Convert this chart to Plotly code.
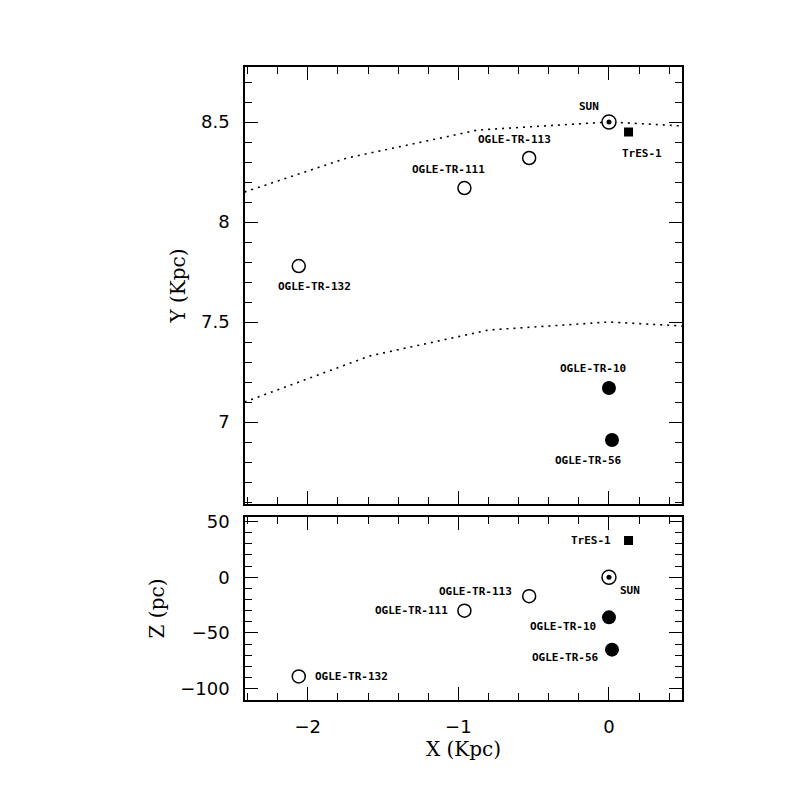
import plotly.graph_objects as go

# stars: galactic X (Kpc), Y (Kpc), Z (pc)
names = ["SUN", "TrES-1", "OGLE-TR-10", "OGLE-TR-56", "OGLE-TR-111", "OGLE-TR-113", "OGLE-TR-132"]
x_kpc = [0.0, 0.13, 0.0, 0.02, -0.96, -0.53, -2.06]
y_kpc = [8.50, 8.45, 7.17, 6.91, 8.17, 8.32, 7.78]
z_pc = [0, 33, -36, -65, -30, -17, -89]

# dotted curves (R = 8.5 and 7.5 Kpc)
r85_x = [-2.42, -1.74, -0.87, 0.0, 0.49]
r85_y = [8.15, 8.32, 8.46, 8.50, 8.48]
r75_x = [-2.42, -1.59, -0.80, 0.0, 0.49]
r75_y = [7.10, 7.33, 7.46, 7.50, 7.48]

# marker style per star
open_c = dict(symbol="circle", size=13, color="white", line=dict(color="black", width=1.5))
styles = {
    "SUN": dict(symbol="circle", size=14, color="white", line=dict(color="black", width=1.5)),
    "TrES-1": dict(symbol="square", size=9, color="black"),
    "OGLE-TR-10": dict(symbol="circle", size=14, color="black"),
    "OGLE-TR-56": dict(symbol="circle", size=14, color="black"),
    "OGLE-TR-111": open_c,
    "OGLE-TR-113": open_c,
    "OGLE-TR-132": open_c,
}
# label offsets in pixels (dx, dy) for top (XY) and bottom (XZ) panels
off_top = {"SUN": (-20, 16), "TrES-1": (13, -21), "OGLE-TR-10": (-16, 20), "OGLE-TR-56": (-23, -20),
           "OGLE-TR-111": (-16, 19), "OGLE-TR-113": (-15, 19), "OGLE-TR-132": (16, -20)}
off_bot = {"SUN": (21, -13), "TrES-1": (-38, 0), "OGLE-TR-10": (-46, -9), "OGLE-TR-56": (-46, -8),
           "OGLE-TR-111": (-53, 0), "OGLE-TR-113": (-54, 5), "OGLE-TR-132": (53, 0)}

fig = go.Figure()

dots = dict(color="black", width=1.6, dash="2px,5px")
fig.add_trace(go.Scatter(x=r85_x, y=r85_y, mode="lines", line=dots, xaxis="x", yaxis="y"))
fig.add_trace(go.Scatter(x=r75_x, y=r75_y, mode="lines", line=dots, xaxis="x", yaxis="y"))

lab_font = dict(family="DejaVu Sans Mono", size=11, color="black", weight="bold")
for i, n in enumerate(names):
    fig.add_trace(go.Scatter(x=[x_kpc[i]], y=[y_kpc[i]], mode="markers", marker=styles[n],
                             xaxis="x", yaxis="y"))
    fig.add_trace(go.Scatter(x=[x_kpc[i]], y=[z_pc[i]], mode="markers", marker=styles[n],
                             xaxis="x2", yaxis="y2"))
    dx, dy = off_top[n]
    fig.add_annotation(x=x_kpc[i], y=y_kpc[i], xref="x", yref="y", text=n, showarrow=False,
                       xshift=dx, yshift=dy, font=lab_font)
    dx, dy = off_bot[n]
    fig.add_annotation(x=x_kpc[i], y=z_pc[i], xref="x2", yref="y2", text=n, showarrow=False,
                       xshift=dx, yshift=dy, font=lab_font)

# centre dot of the sun symbol
sun = names.index("SUN")
for xa, ya, yv in [("x", "y", y_kpc[sun]), ("x2", "y2", z_pc[sun])]:
    fig.add_trace(go.Scatter(x=[x_kpc[sun]], y=[yv], mode="markers",
                             marker=dict(symbol="circle", size=5, color="black"), xaxis=xa, yaxis=ya))

tick_font = dict(family="DejaVu Sans", size=18, color="black")
title_font = dict(family="DejaVu Serif", size=20, color="black")
common = dict(showline=True, linecolor="black", linewidth=1.5, mirror="allticks", ticks="inside",
              ticklen=13, tickwidth=1.2, tickcolor="black", showgrid=False, zeroline=False,
              tickfont=tick_font, ticklabelstandoff=10)
minor_x = dict(dtick=0.2, ticks="inside", ticklen=7, tickcolor="black", tickwidth=1.2)

fig.update_layout(
    width=797, height=797,
    margin=dict(l=237, r=123, t=59, b=105),
    plot_bgcolor="white", paper_bgcolor="white",
    showlegend=False,
    xaxis=dict(common, domain=[0, 1], range=[-2.417, 0.485], anchor="y", dtick=1,
               showticklabels=False, minor=minor_x),
    yaxis=dict(common, domain=[0.3096, 1], range=[6.59, 8.775], anchor="x", dtick=0.5,
               title=dict(text="Y (Kpc)", font=title_font, standoff=10),
               minor=dict(dtick=0.1, ticks="inside", ticklen=7, tickcolor="black", tickwidth=1.2)),
    xaxis2=dict(common, domain=[0, 1], range=[-2.417, 0.485], anchor="y2", dtick=1, matches="x",
                title=dict(text="X (Kpc)", font=title_font, standoff=1), minor=minor_x),
    yaxis2=dict(common, domain=[0, 0.2893], range=[-110.2, 54.2], anchor="x2", dtick=50,
                title=dict(text="Z (pc)", font=title_font, standoff=10),
                minor=dict(dtick=10, ticks="inside", ticklen=7, tickcolor="black", tickwidth=1.2)),
)

fig.write_html("out.html")
